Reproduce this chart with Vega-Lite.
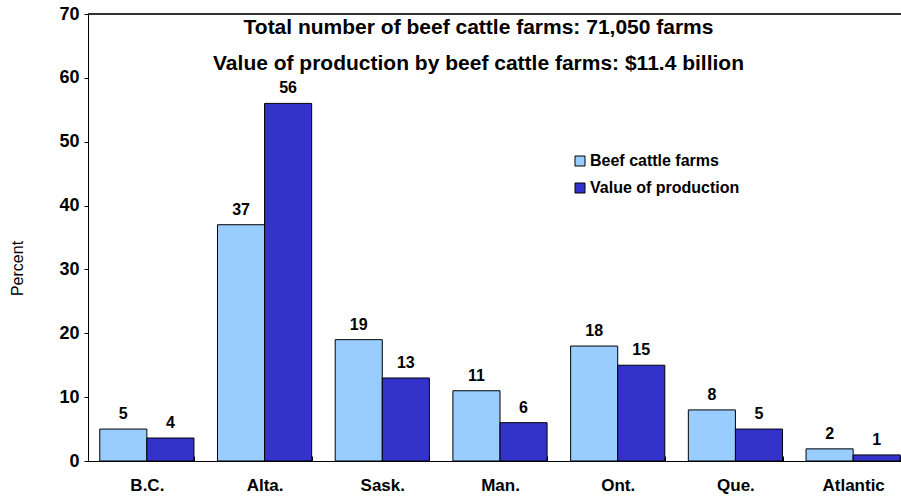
{
  "$schema": "https://vega.github.io/schema/vega-lite/v6.json",
  "width": 813,
  "height": 447,
  "autosize": {"type": "none"},
  "padding": {"left": 88, "top": 14, "right": 0, "bottom": 37},
  "background": "white",
  "title": {
    "text": ["Total number of beef cattle farms: 71,050 farms", "Value of production by beef cattle farms: $11.4 billion"],
    "frame": "group",
    "anchor": "middle",
    "baseline": "top",
    "offset": 0,
    "dy": 69,
    "dx": -16,
    "lineHeight": 36,
    "font": "Liberation Sans",
    "fontSize": 21,
    "fontWeight": "bold",
    "color": "black"
  },
  "data": {
    "values": [
      {"region": "B.C.", "series": "Beef cattle farms", "percent": 5},
      {"region": "B.C.", "series": "Value of production", "percent": 3.6},
      {"region": "Alta.", "series": "Beef cattle farms", "percent": 37},
      {"region": "Alta.", "series": "Value of production", "percent": 56},
      {"region": "Sask.", "series": "Beef cattle farms", "percent": 19},
      {"region": "Sask.", "series": "Value of production", "percent": 13},
      {"region": "Man.", "series": "Beef cattle farms", "percent": 11},
      {"region": "Man.", "series": "Value of production", "percent": 6},
      {"region": "Ont.", "series": "Beef cattle farms", "percent": 18},
      {"region": "Ont.", "series": "Value of production", "percent": 15},
      {"region": "Que.", "series": "Beef cattle farms", "percent": 8},
      {"region": "Que.", "series": "Value of production", "percent": 5},
      {"region": "Atlantic", "series": "Beef cattle farms", "percent": 1.9},
      {"region": "Atlantic", "series": "Value of production", "percent": 0.95}
    ]
  },
  "encoding": {
    "x": {
      "field": "region",
      "type": "nominal",
      "sort": ["B.C.", "Alta.", "Sask.", "Man.", "Ont.", "Que.", "Atlantic"],
      "scale": {"range": [0, 824], "paddingInner": 0.2, "paddingOuter": 0.1},
      "axis": {
        "title": null,
        "labelAngle": 0,
        "labelFont": "Liberation Sans",
        "labelFontSize": 17,
        "labelFontWeight": "bold",
        "labelColor": "black",
        "labelPadding": 21,
        "labelBaseline": "top",
        "tickBand": "extent",
        "tickSize": -5,
        "tickColor": "black",
        "domainColor": "black",
        "labelBound": false,
        "labelOverlap": false
      }
    },
    "xOffset": {"field": "series", "type": "nominal"},
    "y": {
      "field": "percent",
      "type": "quantitative",
      "scale": {"domain": [0, 70], "nice": false},
      "axis": {
        "title": "Percent",
        "values": [0, 10, 20, 30, 40, 50, 60, 70],
        "grid": false,
        "labelFont": "Liberation Sans",
        "labelFontSize": 18,
        "labelFontWeight": "bold",
        "labelColor": "black",
        "labelPadding": 5,
        "tickSize": 4,
        "tickColor": "black",
        "domainColor": "black",
        "titleFont": "Liberation Sans",
        "titleFontSize": 16,
        "titleFontWeight": "normal",
        "titleColor": "black",
        "titleAngle": -90,
        "titleX": -71,
        "titleY": 254,
        "titleAlign": "center",
        "titleBaseline": "middle"
      }
    }
  },
  "layer": [
    {
      "mark": {"type": "bar", "stroke": "black", "strokeWidth": 1},
      "encoding": {
        "color": {
          "field": "series",
          "type": "nominal",
          "scale": {"domain": ["Beef cattle farms", "Value of production"], "range": ["#99CCFF", "#3333CC"]},
          "legend": {
            "title": null,
            "orient": "none",
            "legendX": 484,
            "legendY": 139,
            "symbolType": "square",
            "symbolSize": 100,
            "symbolStrokeColor": "black",
            "symbolStrokeWidth": 1,
            "symbolOpacity": 1,
            "labelFont": "Liberation Sans",
            "labelFontSize": 16,
            "labelFontWeight": "bold",
            "labelColor": "black",
            "labelOffset": 2,
            "rowPadding": 11
          }
        }
      }
    },
    {
      "mark": {"type": "text", "dy": -10, "baseline": "alphabetic", "font": "Liberation Sans", "fontSize": 16, "fontWeight": "bold", "color": "black"},
      "encoding": {
        "text": {"field": "percent", "type": "quantitative", "format": ".0f"}
      }
    },
    {
      "mark": {"type": "rule", "color": "#333333", "strokeWidth": 1.5},
      "encoding": {
        "x": {"value": 0},
        "x2": {"value": 813},
        "y": {"datum": 70},
        "xOffset": null
      }
    }
  ],
  "config": {
    "view": {"stroke": null}
  }
}
